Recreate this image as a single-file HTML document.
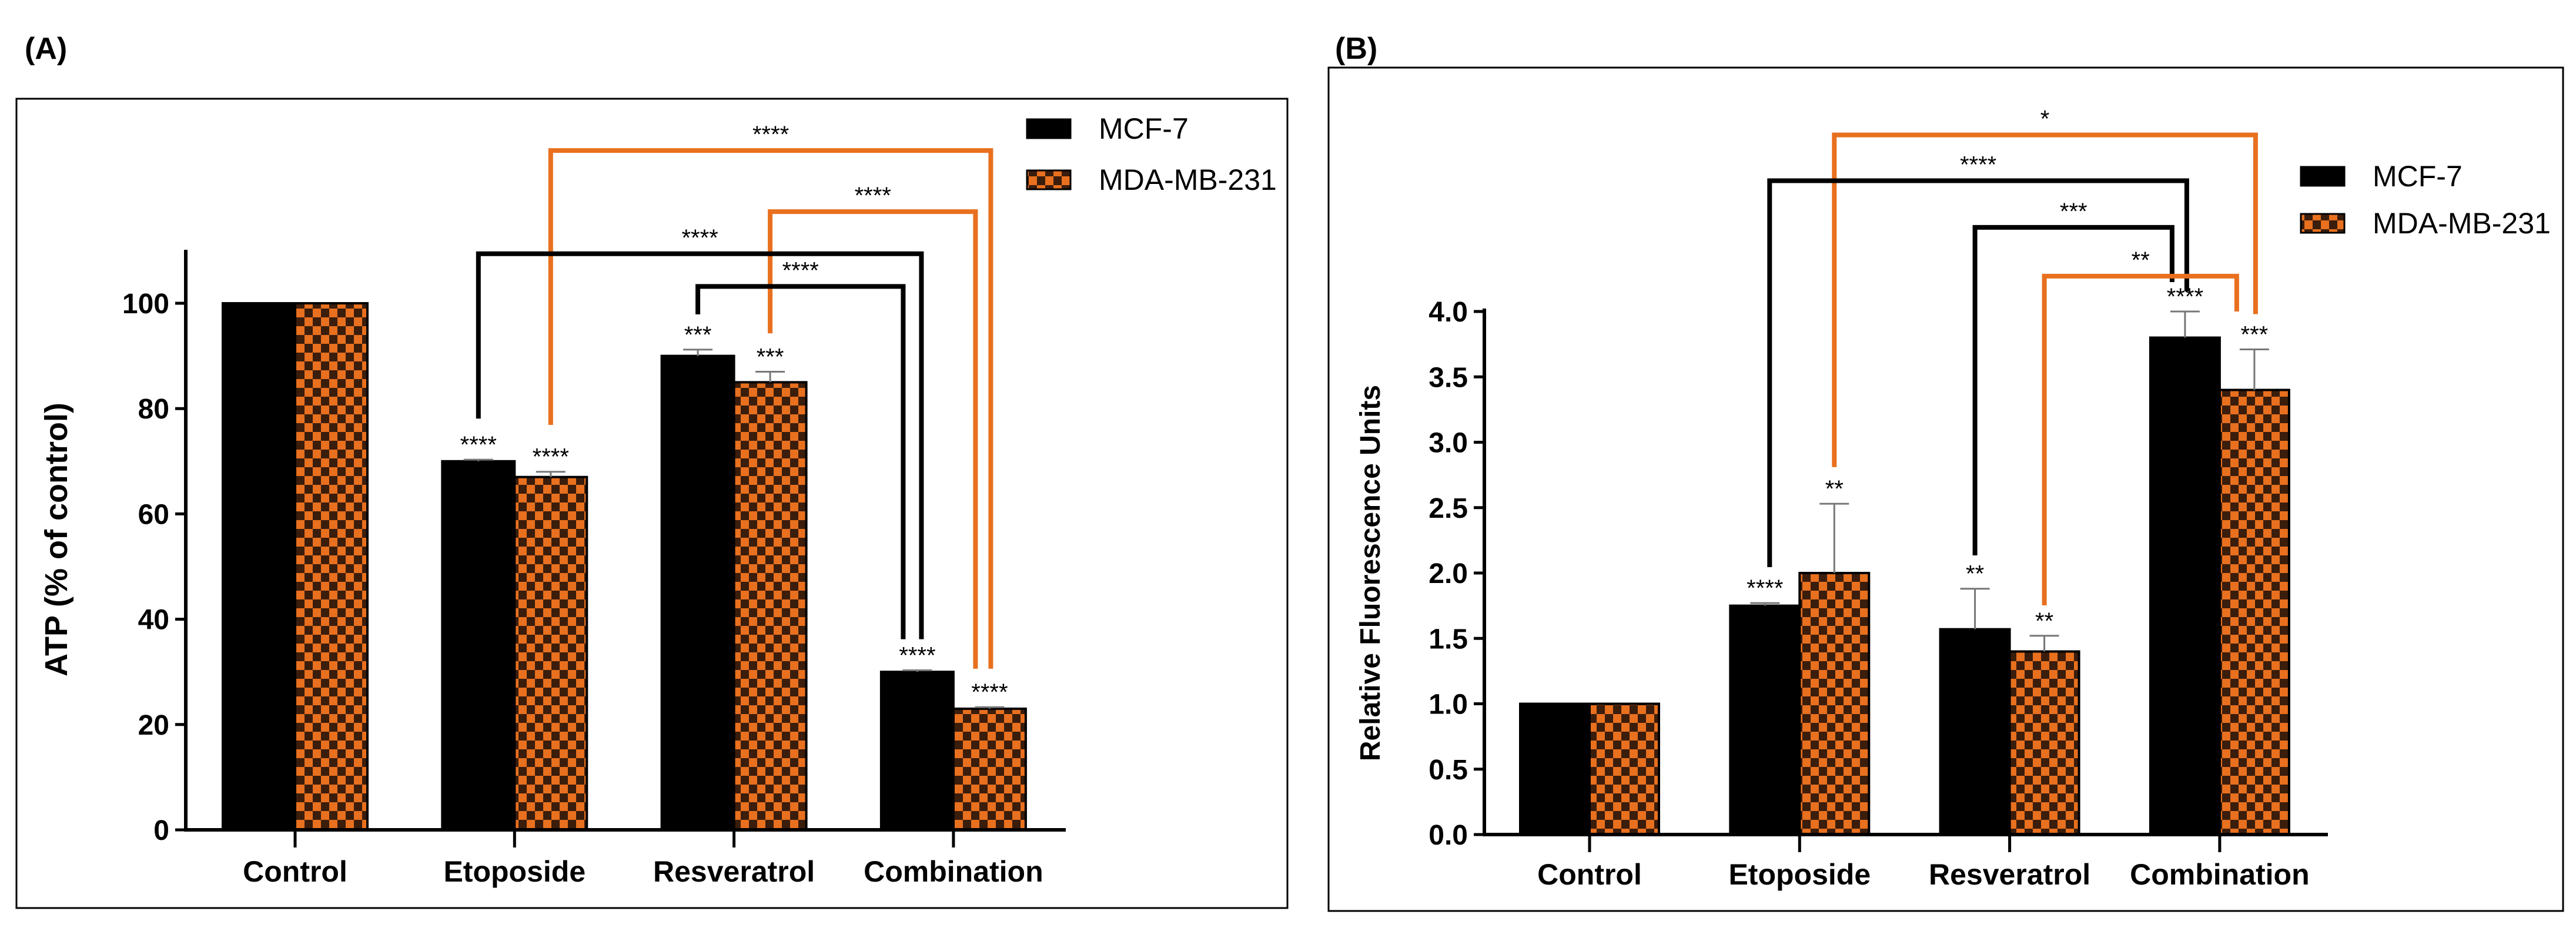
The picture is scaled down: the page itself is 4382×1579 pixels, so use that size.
<!DOCTYPE html>
<html><head><meta charset="utf-8"><style>
html,body{margin:0;padding:0;background:#fff}
svg{display:block}
text{font-family:"Liberation Sans",sans-serif}
</style></head><body>
<svg id="fig" width="4382" height="1579" viewBox="0 0 4382 1579" xmlns="http://www.w3.org/2000/svg">
<defs>
<pattern id="chk" patternUnits="userSpaceOnUse" width="28" height="30">
<rect width="28" height="30" fill="#e8701e"/>
<rect x="0" y="0" width="14" height="15" fill="#3b1d0c"/>
<rect x="14" y="15" width="14" height="15" fill="#3b1d0c"/>
</pattern>
</defs>
<g id="root"></g>
</svg>
<script>
const categories = ["Control","Etoposide","Resveratrol","Combination"];
const seriesNames = ["MCF-7","MDA-MB-231"];
const aMcf = [100,70,90,30];
const aMda = [100,67,85,23];
const aMcfErr = [0,0.3,1.2,0.3];
const aMdaErr = [0,1.0,2.0,0.3];
const aMcfStars = ["","****","***","****"];
const aMdaStars = ["","****","***","****"];
const aTicks = [0,20,40,60,80,100];
const bMcf = [1.0,1.75,1.57,3.8];
const bMda = [1.0,2.0,1.4,3.4];
const bMcfErr = [0,0.02,0.31,0.2];
const bMdaErr = [0,0.53,0.12,0.31];
const bMcfStars = ["","****","**","****"];
const bMdaStars = ["","**","**","***"];
const bTicks = [0,0.5,1.0,1.5,2.0,2.5,3.0,3.5,4.0];
// brackets: [fromCat, fromSeries, toCat, toSeries, topValue, leftEndValue, rightEndValue, label, color]
const aBrackets = [
 [1,1,3,1,129,76.9,30.6,"****","#e8701e"],
 [2,1,3,1,117.4,94.3,30.6,"****","#e8701e"],
 [1,0,3,0,109.4,78.1,36.2,"****","#000"],
 [2,0,3,0,103.2,97.9,36.2,"****","#000"]
];
const bBrackets = [
 [1,1,3,1,5.35,2.81,3.98,"*","#e8701e"],
 [1,0,3,0,5.0,2.045,4.157,"****","#000"],
 [2,0,3,0,4.643,2.135,4.225,"***","#000"],
 [2,1,3,1,4.27,1.753,4.0,"**","#e8701e"]
];
const NS="http://www.w3.org/2000/svg";
const root=document.getElementById('root');
function mk(tag,attrs,parent,txt){const e=document.createElementNS(NS,tag);for(const k in attrs)e.setAttribute(k,attrs[k]);if(txt!==undefined)e.textContent=txt;(parent||root).appendChild(e);return e;}

function panel(o){
 const g=mk('g',{});
 
 
 const y=v=>o.y0-(v-o.vmin)/(o.vmax-o.vmin)*(o.y0-o.ytop);
 const cx=i=>o.c0+i*o.cstep;
 const bx=(i,s)=>cx(i)+(s===0?-o.bw/2:o.bw/2);
 const pl=mk('text',{x:o.lx,y:o.ly,'font-size':52,'font-weight':'bold'},g,o.label);
 
 const box=mk('rect',{x:o.box[0],y:o.box[1],width:o.box[2]-o.box[0],height:o.box[3]-o.box[1],fill:'none',stroke:'#000','stroke-width':3},g);
 
 [o.s0,o.s1].forEach((vals,s)=>{
  const errs=s===0?o.e0:o.e1; const stars=s===0?o.st0:o.st1;
  vals.forEach((v,i)=>{
   const x=bx(i,s)-o.bw/2;
   const r=mk('rect',{x:x,y:y(v),width:o.bw,height:y(o.vmin)-y(v),fill:s===0?'#000':'url(#chk)',stroke:'#000','stroke-width':4},g);
   
   
   if(errs[i]>0){
    const c=bx(i,s);
    const eb=mk('path',{d:`M${c},${y(v)} V${y(v+errs[i])} M${c-25},${y(v+errs[i])} H${c+25}`,stroke:'#777','stroke-width':3,fill:'none'},g);
    
   }
   if(stars[i]){
    const t=mk('text',{x:bx(i,s),y:y(v+errs[i])-12,'font-size':40,'text-anchor':'middle'},g,stars[i]);
    
   }
  });
 });
 const ya=mk('line',{x1:o.x0,y1:o.axTop,x2:o.x0,y2:y(o.vmin)+2,stroke:'#000','stroke-width':6},g);
 
 const xa=mk('line',{x1:o.x0-3,y1:y(o.vmin),x2:o.xend,y2:y(o.vmin),stroke:'#000','stroke-width':6},g);
 
 o.ticks.forEach(t=>{
  mk('line',{x1:o.x0-18,y1:y(t),x2:o.x0,y2:y(t),stroke:'#000','stroke-width':5},g);
  const tl=mk('text',{x:o.x0-28,y:y(t)+17,'font-size':48,'font-weight':'bold','text-anchor':'end'},g,o.fmt(t));
  
 });
 categories.forEach((c,i)=>{
  mk('line',{x1:cx(i),y1:y(o.vmin),x2:cx(i),y2:y(o.vmin)+30,stroke:'#000','stroke-width':5},g);
  const cl=mk('text',{x:cx(i),y:o.catY,'font-size':50,'font-weight':'bold','text-anchor':'middle'},g,c);
  
 });
 const yt=mk('text',{x:0,y:0,'font-size':o.ytSize,'font-weight':'bold','text-anchor':'middle',transform:`translate(${o.ytX},${o.ytY}) rotate(-90)`},g,o.ytitle);
 
 o.br.forEach((b,k)=>{
  const x1=bx(b[0],b[1])+(o.bdx[k][0]), x2=bx(b[2],b[3])+(o.bdx[k][1]);
  const p=mk('path',{d:`M${x1},${y(b[5])} V${y(b[4])} H${x2} V${y(b[6])}`,stroke:b[8],'stroke-width':8,fill:'none'},g);
  
  const t=mk('text',{x:(x1+x2)/2,y:y(b[4])-14,'font-size':40,'text-anchor':'middle'},g,b[7]);
  
 });
 seriesNames.forEach((n,s)=>{
  const ly=o.legY+s*o.legStep;
  const lr=mk('rect',{x:o.legX,y:ly-16,width:74,height:32,fill:s===0?'#000':'url(#chk)',stroke:'#000','stroke-width':3},g);
  
  const lt=mk('text',{x:o.legX+122,y:ly+17,'font-size':50},g,n);
  
 });
}

panel({name:'panel-a-atp-chart',label:'(A)',lx:42,ly:100,box:[28,168,2190,1545],
 vmin:0,vmax:100,y0:1412,ytop:516,axTop:425,x0:316,xend:1813,c0:502,cstep:373.3,bw:123,
 s0:aMcf,s1:aMda,e0:aMcfErr,e1:aMdaErr,st0:aMcfStars,st1:aMdaStars,ticks:aTicks,fmt:t=>String(t),
 catY:1500,ytitle:'ATP (% of control)',ytX:114,ytY:918,ytSize:54,
 br:aBrackets,bdx:[[0,2],[0,-24],[0,7],[0,-24]],legX:1747,legY:219,legStep:87});
panel({name:'panel-b-fluorescence-chart',label:'(B)',lx:2271,ly:100,box:[2260,115,4360,1550],
 vmin:0,vmax:4,y0:1420,ytop:530,axTop:525,x0:2525,xend:3960,c0:2704,cstep:357.3,bw:118,
 s0:bMcf,s1:bMda,e0:bMcfErr,e1:bMdaErr,st0:bMcfStars,st1:bMdaStars,ticks:bTicks,fmt:t=>t.toFixed(1),
 catY:1505,ytitle:'Relative Fluorescence Units',ytX:2347,ytY:975,ytSize:48,
 br:bBrackets,bdx:[[0,2],[8,3],[0,-22],[0,-30]],legX:3914,legY:300,legStep:80});
</script>
</body></html>
